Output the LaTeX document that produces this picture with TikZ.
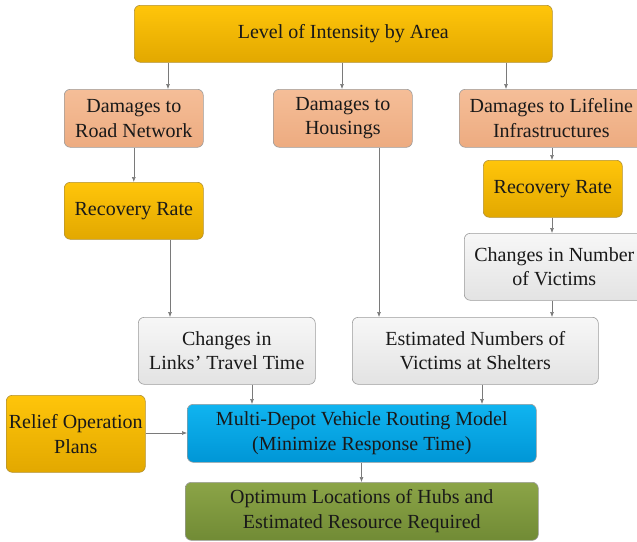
\documentclass[tikz,border=0pt]{standalone}
\usepackage{fontspec}
\setmainfont{Liberation Serif}
\usetikzlibrary{arrows.meta,calc}
\definecolor{goldT}{HTML}{FFC50A}
\definecolor{goldB}{HTML}{E2A800}
\definecolor{peachT}{HTML}{F5BE98}
\definecolor{peachB}{HTML}{EDAB80}
\definecolor{grayT}{HTML}{F7F7F7}
\definecolor{grayB}{HTML}{E3E3E3}
\definecolor{blueT}{HTML}{10B4F0}
\definecolor{blueB}{HTML}{0096D6}
\definecolor{greenT}{HTML}{8BA447}
\definecolor{greenB}{HTML}{718B35}
\definecolor{edge}{HTML}{9C9C9C}
\definecolor{lnc}{HTML}{7A7A7A}
\tikzset{
  basebox/.style={draw=edge, line width=0.6pt, rounded corners=6pt, anchor=north west,
    inner sep=0pt, align=center, font=\fontsize{20}{24.5}\selectfont, text=black!90},
  goldbox/.style={basebox, top color=goldT, bottom color=goldB, draw=goldB!70!black!80},
  peachbox/.style={basebox, top color=peachT, bottom color=peachB},
  graybox/.style={basebox, top color=grayT, bottom color=grayB},
  bluebox/.style={basebox, top color=blueT, bottom color=blueB},
  greenbox/.style={basebox, top color=greenT, bottom color=greenB},
  arr/.style={draw=lnc, line width=0.6pt, -{Latex[length=5pt,width=4pt]}}
}
\begin{document}
\begin{tikzpicture}[x=1pt,y=-1pt]
\useasboundingbox (0,0) rectangle (637,541);
\node[goldbox, minimum width=418pt, minimum height=57pt] (top) at (134,5) {Level of Intensity by Area};
\node[peachbox, minimum width=139pt, minimum height=58pt] (road) at (64,89) {Damages to\\Road Network};
\node[peachbox, minimum width=139pt, minimum height=58pt] (house) at (273,89) {Damages to\\Housings};
\node[peachbox, minimum width=184pt, minimum height=58pt] (life) at (459,89) {Damages to Lifeline\\Infrastructures};
\node[goldbox, minimum width=139pt, minimum height=57pt] (rrl) at (64,182) {Recovery Rate};
\node[goldbox, minimum width=139pt, minimum height=57pt] (rrr) at (483,160) {Recovery Rate};
\node[graybox, minimum width=180pt, minimum height=67pt] (cnv) at (464,233) {Changes in Number\\of Victims};
\node[graybox, minimum width=177pt, minimum height=67pt] (clt) at (138,317) {Changes in\\Links' Travel Time};
\node[graybox, minimum width=246pt, minimum height=67pt] (env) at (352,317) {Estimated Numbers of\\Victims at Shelters};
\node[goldbox, minimum width=139pt, minimum height=77pt] (rop) at (6,395) {Relief Operation\\Plans};
\node[bluebox, minimum width=349pt, minimum height=58pt] (mdv) at (187,404) {Multi-Depot Vehicle Routing Model\\(Minimize Response Time)};
\node[greenbox, minimum width=353pt, minimum height=58pt] (opt) at (185,482) {Optimum Locations of Hubs and\\Estimated Resource Required};
\coordinate (c1) at (168,0);
\coordinate (c2) at (342,0);
\coordinate (c3) at (506,0);
\coordinate (c4) at (170,0);
\coordinate (c5) at (379,0);
\coordinate (c6) at (552,0);
\coordinate (c7) at (252,0);
\coordinate (c8) at (482,0);
\coordinate (c9) at (361.5,0);
\draw[arr] (top.south -| c1) -- (road.north -| c1);
\draw[arr] (top.south -| c2) -- (house.north -| c2);
\draw[arr] (top.south -| c3) -- (life.north -| c3);
\draw[arr] (road.south) -- (rrl.north);
\draw[arr] (life.south -| c6) -- (rrr.north -| c6);
\draw[arr] (rrr.south -| c6) -- (cnv.north -| c6);
\draw[arr] (rrl.south -| c4) -- (clt.north -| c4);
\draw[arr] (house.south -| c5) -- (env.north -| c5);
\draw[arr] (cnv.south -| c6) -- (env.north -| c6);
\draw[arr] (clt.south -| c7) -- (mdv.north -| c7);
\draw[arr] (env.south -| c8) -- (mdv.north -| c8);
\draw[arr] (rop.east |- 0,433) -- (mdv.west |- 0,433);
\draw[arr] (mdv.south -| c9) -- (opt.north -| c9);
\end{tikzpicture}
\end{document}
